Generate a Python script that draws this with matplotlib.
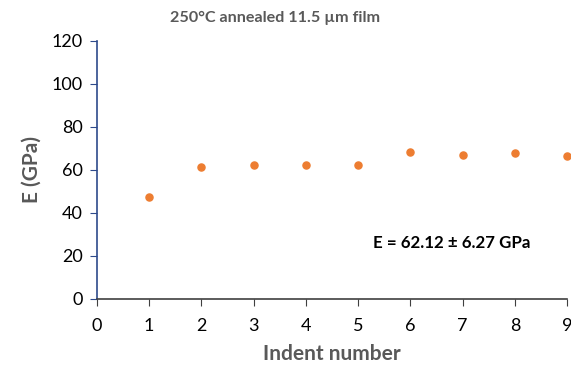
import matplotlib
matplotlib.use("Agg")
import matplotlib.pyplot as plt

indent = [1, 2, 3, 4, 5, 6, 7, 8, 9]
modulus = [47.6, 61.6, 62.3, 62.3, 62.3, 68.4, 67.0, 67.7, 66.3]
xticks = [0, 1, 2, 3, 4, 5, 6, 7, 8, 9]
yticks = [0, 20, 40, 60, 80, 100, 120]
title = "250°C annealed 11.5 µm film"
annot = "E = 62.12 ± 6.27 GPa"

plt.rcParams['font.family'] = ['Lato', 'DejaVu Sans']

fig = plt.figure(figsize=(5.71, 3.70), dpi=100)
ax = fig.add_axes([0.1693, 0.1919, 0.8242, 0.6973])
ax.scatter(indent, modulus, s=26, color='#ED7D31', marker='o', zorder=3, clip_on=False)
ax.set_xlim(0, 9)
ax.set_ylim(0, 120)
ax.set_xticks(xticks)
ax.set_yticks(yticks)
ax.tick_params(axis='both', labelsize=13, colors='#000000', direction='out', length=5)
ax.tick_params(axis='y', color='#2E4A8B', pad=5)
ax.tick_params(axis='x', color='#404040', pad=9)
for s in ['top', 'right']:
    ax.spines[s].set_visible(False)
ax.spines['left'].set_color('#2E4A8B')
ax.spines['bottom'].set_color('#404040')
ax.spines['left'].set_linewidth(1.2)
ax.spines['bottom'].set_linewidth(1.2)

ax.set_xlabel("Indent number", fontsize=15, fontweight='bold', color='#595959', labelpad=7)
ax.set_ylabel("E (GPa)", fontsize=15, fontweight='bold', color='#595959', labelpad=7)
fig.text(0.481, 0.952, title, ha='center', va='center', fontsize=11.6, fontweight='bold', color='#595959')
ax.text(5.28, 26.2, annot, ha='left', va='center', fontsize=12.2, fontweight='bold', color='#000000')

fig.savefig("out.png", dpi=100)
